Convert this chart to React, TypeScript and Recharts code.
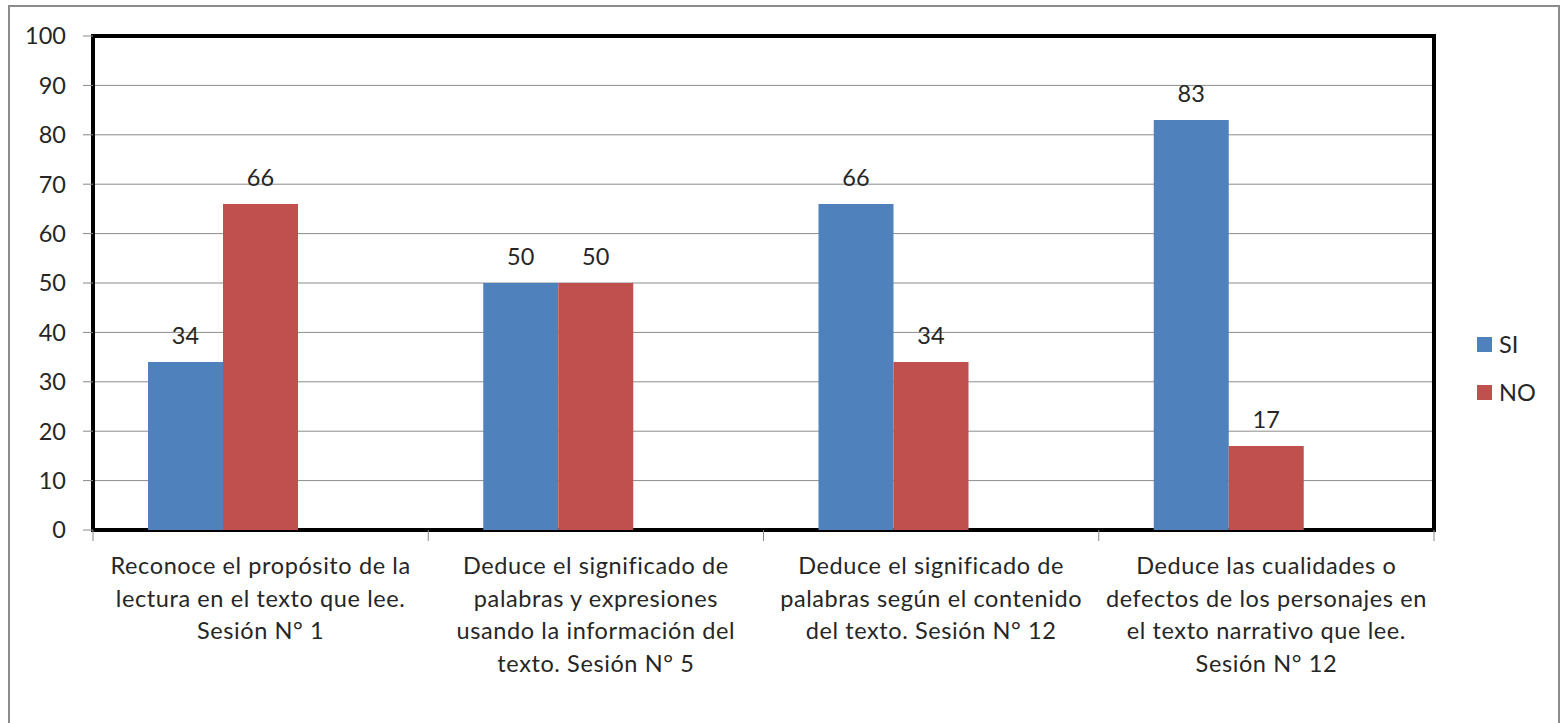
import React from "react";
import {
  BarChart,
  Bar,
  XAxis,
  YAxis,
  CartesianGrid,
  Legend,
  LabelList,
  ReferenceArea,
} from "recharts";

const categories = [
  "Reconoce el propósito de la\nlectura en el texto que lee.\nSesión N° 1",
  "Deduce el significado de\npalabras y expresiones\nusando la información del\ntexto. Sesión N° 5",
  "Deduce el significado de\npalabras según el contenido\ndel texto. Sesión N° 12",
  "Deduce las cualidades o\ndefectos de los personajes en\nel texto narrativo que lee.\nSesión N° 12",
];
const siValues = [34, 50, 66, 83];
const noValues = [66, 50, 34, 17];
const yTicks = [0, 10, 20, 30, 40, 50, 60, 70, 80, 90, 100];
const seriesOrder = ["SI", "NO"];

const data = categories.map((name, i) => ({
  name,
  SI: siValues[i],
  NO: noValues[i],
  blank: null,
}));

const FONT = "Lato, 'Liberation Sans', sans-serif";
const TEXT = "#262626";
const FS = 23.5;

const CategoryTick = (props: any) => {
  const { x, y, payload, index } = props;
  const half = payload.offset || 0;
  const lines = String(payload.value).split("\n");
  return (
    <g>
      <line x1={x - half} x2={x - half} y1={y} y2={y + 11} stroke="#888" />
      {index === categories.length - 1 && (
        <line x1={x + half} x2={x + half} y1={y} y2={y + 11} stroke="#888" />
      )}
      <text
        x={x}
        y={y + 35}
        textAnchor="middle"
        dominantBaseline="central"
        fontSize={FS}
        fontFamily={FONT}
        letterSpacing={0.6}
        fill={TEXT}
      >
        {lines.map((l, i) => (
          <tspan key={i} x={x} dy={i === 0 ? 0 : 32.5}>
            {l}
          </tspan>
        ))}
      </text>
    </g>
  );
};

const LegendContent = (props: any) => {
  const items = (props.payload || [])
    .filter((p: any) => p.type !== "none")
    .sort(
      (a: any, b: any) =>
        seriesOrder.indexOf(a.value) - seriesOrder.indexOf(b.value)
    );
  return (
    <div style={{ fontFamily: FONT, fontSize: FS, color: TEXT }}>
      {items.map((p: any) => (
        <div
          key={p.value}
          style={{ display: "flex", alignItems: "center", height: 48 }}
        >
          <span
            style={{
              display: "inline-block",
              width: 15,
              height: 15,
              background: p.color,
              marginRight: 7,
            }}
          />
          <span>{p.value}</span>
        </div>
      ))}
    </div>
  );
};

export default function App() {
  return (
    <div
      style={{
        position: "absolute",
        left: 0,
        top: 0,
        width: 1560,
        height: 723,
        background: "#fff",
        overflow: "hidden",
      }}
    >
      <div
        style={{
          position: "absolute",
          left: 8,
          top: 5,
          width: 1548,
          height: 740,
          border: "2px solid #8c8c8c",
        }}
      />
      <BarChart
        width={1560}
        height={723}
        data={data}
        margin={{ top: 36, right: 126, left: 0, bottom: 0 }}
        barCategoryGap={55}
        barGap={0}
      >
        <CartesianGrid vertical={false} stroke="#8c8c8c" />
        <XAxis
          dataKey="name"
          height={193}
          axisLine={false}
          tickLine={false}
          tickSize={0}
          tickMargin={0}
          interval={0}
          tick={<CategoryTick />}
        />
        <YAxis
          width={93}
          domain={[0, 100]}
          ticks={yTicks}
          interval={0}
          axisLine={false}
          tickLine={{ stroke: "#888" }}
          tickSize={10}
          tickMargin={17}
          tick={{ fontSize: FS, fontFamily: FONT, fill: TEXT }}
        />
        <Legend
          layout="vertical"
          align="center"
          verticalAlign="middle"
          content={<LegendContent />}
          wrapperStyle={{ left: 1477, top: 320, width: 80 }}
        />
        <Bar dataKey="SI" fill="#4F81BD" isAnimationActive={false}>
          <LabelList
            dataKey="SI"
            position="top"
            offset={18}
            style={{ fontSize: FS, fontFamily: FONT, fill: TEXT }}
          />
        </Bar>
        <Bar dataKey="NO" fill="#C0504D" isAnimationActive={false}>
          <LabelList
            dataKey="NO"
            position="top"
            offset={18}
            style={{ fontSize: FS, fontFamily: FONT, fill: TEXT }}
          />
        </Bar>
        <Bar
          dataKey="blank"
          fill="#9BBB59"
          legendType="none"
          isAnimationActive={false}
        />
        <ReferenceArea
          y1={0}
          y2={100}
          fill="none"
          fillOpacity={0}
          stroke="#000"
          strokeWidth={4}
          ifOverflow="visible"
        />
      </BarChart>
    </div>
  );
}
